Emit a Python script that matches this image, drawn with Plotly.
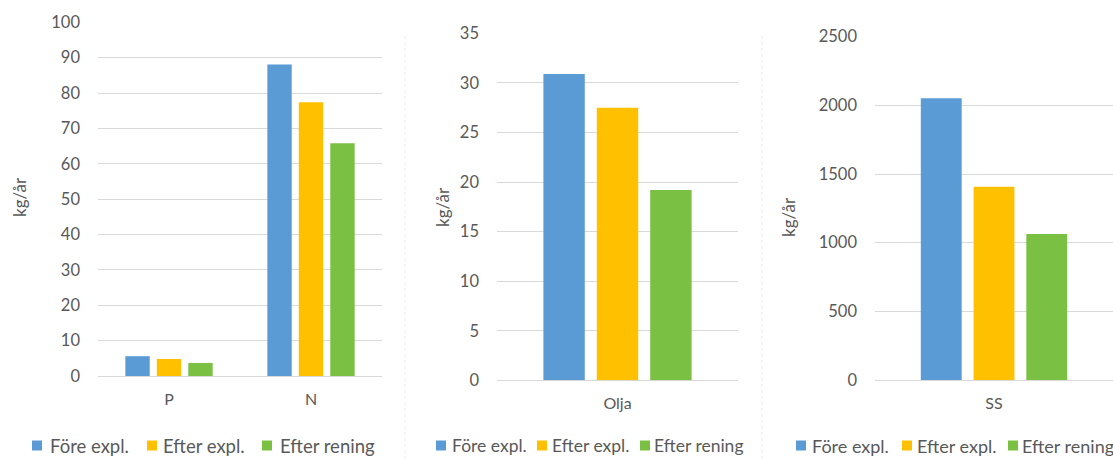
import plotly.graph_objects as go

# Series names and colours
series = ["Före expl.", "Efter expl.", "Efter rening"]
colors = ["#5B9BD5", "#FFC000", "#7AC143"]

# Panel 1: nutrients
cats_nutr = ["P", "N"]
vals_nutr = {
    "Före expl.": [5.6, 88.1],
    "Efter expl.": [4.8, 77.4],
    "Efter rening": [3.7, 65.8],
}

# Panel 2: oil
cats_oil = ["Olja"]
vals_oil = {
    "Före expl.": [30.9],
    "Efter expl.": [27.5],
    "Efter rening": [19.2],
}

# Panel 3: suspended solids
cats_ss = ["SS"]
vals_ss = {
    "Före expl.": [2051],
    "Efter expl.": [1408],
    "Efter rening": [1063],
}

y_title = "kg/år"

W, H = 1113, 459
FONT = "Lato"
TXT = "#595959"
GRID = "#d9d9d9"


def px(x):
    return x / W


def py(y):
    return 1 - y / H


fig = go.Figure()

panels = [
    (cats_nutr, vals_nutr, "x", "y"),
    (cats_oil, vals_oil, "x2", "y2"),
    (cats_ss, vals_ss, "x3", "y3"),
]
for cats, vals, xa, ya in panels:
    for name, col in zip(series, colors):
        fig.add_trace(go.Bar(
            x=cats, y=vals[name], name=name,
            marker=dict(color=col, line=dict(width=0)),
            xaxis=xa, yaxis=ya, showlegend=False,
        ))

ytick_font = dict(family=FONT, size=16.5, color=TXT)
xtick_font = dict(family=FONT, size=16, color=TXT)

common_y = dict(
    showgrid=True, gridcolor=GRID, gridwidth=1,
    zeroline=True, zerolinecolor=GRID, zerolinewidth=1,
    showline=False, ticks="", tickfont=ytick_font,
    ticklabelstandoff=17, fixedrange=True,
)
common_x = dict(
    showgrid=False, showline=False, ticks="", tickfont=xtick_font,
    ticklabelstandoff=12, fixedrange=True,
)

fig.update_layout(
    width=W, height=H, autosize=False,
    margin=dict(l=0, r=0, t=0, b=0, autoexpand=False),
    paper_bgcolor="white", plot_bgcolor="white",
    barmode="group", bargap=0.335, bargroupgap=0.225,
    font=dict(family=FONT, color=TXT),
    showlegend=False,
    xaxis=dict(domain=[px(98), px(382)], anchor="y", **common_x),
    yaxis=dict(domain=[py(376), py(22.3)], anchor="x", range=[0, 100], dtick=10, **common_y),
    xaxis2=dict(domain=[px(497), px(738)], anchor="y2", **common_x),
    yaxis2=dict(domain=[py(380.3), py(33.3)], anchor="x2", range=[0, 35], dtick=5, **common_y),
    xaxis3=dict(domain=[px(875), 1.0], anchor="y3", **common_x),
    yaxis3=dict(domain=[py(380), py(36.7)], anchor="x3", range=[0, 2500], dtick=500, **common_y),
)

# Rotated unit labels beside each value axis
for xc, yc in [(19, 197), (443, 207), (788, 217)]:
    fig.add_annotation(
        x=px(xc), y=py(yc), xref="paper", yref="paper",
        text=y_title, textangle=-90, showarrow=False,
        xanchor="center", yanchor="middle",
        font=dict(family=FONT, size=17, color=TXT),
    )

# Legend row under each panel: swatch left edges, label left edges, font size
legend_rows = [
    ([32, 147, 262], [48, 161, 278], 18.5),
    ([436, 537, 640], [450, 550, 652], 17.5),
    ([796, 902, 1008], [810, 915, 1020], 18),
]
LEG_Y = 445.5
SW = 10
for sw_x, tx_x, fsize in legend_rows:
    for name, col, sx, tx in zip(series, colors, sw_x, tx_x):
        fig.add_shape(
            type="rect", xref="paper", yref="paper",
            x0=px(sx), x1=px(sx + SW),
            y0=py(LEG_Y + SW / 2), y1=py(LEG_Y - SW / 2),
            fillcolor=col, line=dict(width=0),
        )
        fig.add_annotation(
            x=px(tx), y=py(LEG_Y), xref="paper", yref="paper",
            text=name, showarrow=False,
            xanchor="left", yanchor="middle",
            font=dict(family=FONT, size=fsize, color=TXT),
        )

# Faint dotted separators between the panels
for xs in (405, 762):
    fig.add_shape(
        type="line", xref="paper", yref="paper",
        x0=px(xs), x1=px(xs), y0=0, y1=py(33),
        line=dict(color="#e9eef3", width=1, dash="dot"),
    )

fig.write_html("out.html")
